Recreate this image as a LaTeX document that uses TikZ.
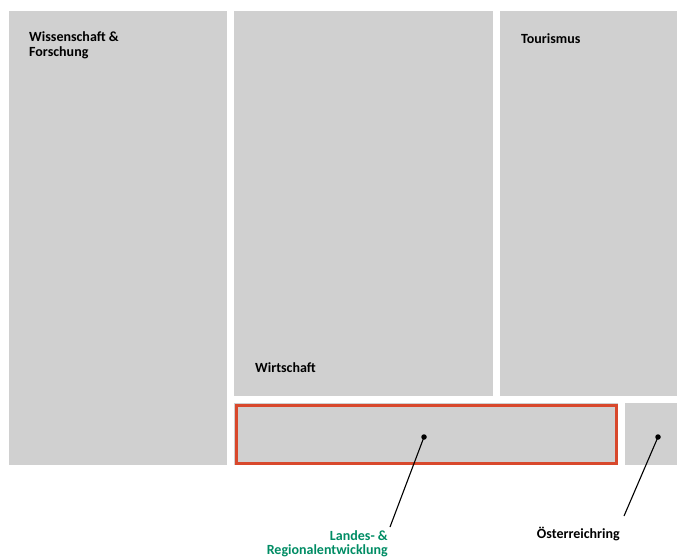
\documentclass[tikz,border=0pt]{standalone}
\usepackage{fontspec}
\setmainfont{Carlito}
\usetikzlibrary{positioning}
\definecolor{tilegray}{RGB}{208,208,208}
\definecolor{framered}{RGB}{216,72,44}
\definecolor{labelgreen}{RGB}{0,140,100}

\begin{document}
\begin{tikzpicture}[x=1pt, y=-1pt,
		tile/.style={fill=tilegray, draw=none, anchor=north west, inner sep=0pt},
		tiletext/.style={font=\bfseries\fontsize{14}{15.5}\selectfont, anchor=north west, align=left, inner sep=0pt},
		pin/.style={circle, fill=black, inner sep=0pt, minimum size=5.5pt},
		lead/.style={draw=black, line width=1.1pt},
		callout/.style={font=\bfseries\fontsize{14}{14.5}\selectfont, align=right, inner sep=0pt, anchor=north east}]
	\useasboundingbox (0,0) rectangle (677,557);
	% tiles
	\node[tile, minimum width=218pt, minimum height=454pt] (wiss) at (9,11) {};
	\node[tile, minimum width=259pt, minimum height=385pt] (wirt) at (234,11) {};
	\node[tile, minimum width=177pt, minimum height=385pt] (tour) at (500,11) {};
	\node[tile, minimum width=384pt, minimum height=62pt] (landes) at (234,403) {};
	\node[tile, minimum width=52pt, minimum height=62pt] (oering) at (625,403) {};
	\draw[framered, line width=3pt] (236,405) rectangle (616,463);
	% tile labels
	\node[tiletext] (wisslabel) at (29,31) {Wissenschaft \&\\Forschung};
	\node[tiletext] (tourlabel) at (521,33) {Tourismus};
	\node[tiletext] (wirtlabel) at (255,362) {Wirtschaft};
	% callouts
	\node[pin] (landespin) at (424,437) {};
	\node[pin] (oeringpin) at (658,437) {};
	\node[callout, text=labelgreen] (landeslabel) at (388,530) {Landes- \&\\Regionalentwicklung};
	\node[callout] (oeringlabel) at (620,527) {Österreichring};
	\draw[lead] (landespin.center) -- ([xshift=2pt,yshift=3pt]landeslabel.north east);
	\draw[lead] (oeringpin.center) -- ([xshift=4pt,yshift=11pt]oeringlabel.north east);
\end{tikzpicture}
\end{document}
